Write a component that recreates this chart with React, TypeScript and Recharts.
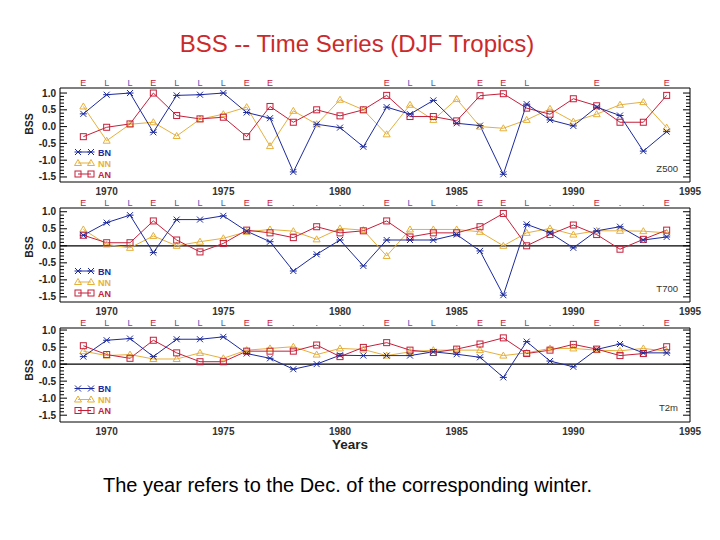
import React from 'react'
import { LineChart, Line, XAxis, YAxis, ReferenceLine } from 'recharts'

// years are the December of each DJF winter
const years = [
  1969, 1970, 1971, 1972, 1973, 1974, 1975, 1976, 1977, 1978, 1979, 1980, 1981,
  1982, 1983, 1984, 1985, 1986, 1987, 1988, 1989, 1990, 1991, 1992, 1993, 1994,
]
// E = El Nino winter, L = La Nina winter
const ensoTags = [
  'E', 'L', 'L', 'E', 'L', 'L', 'L', 'E', 'E', '', '', '', '',
  'E', 'L', 'L', '', 'E', 'E', 'L', '', '', 'E', '', '', 'E',
]

const z500BN = [0.38, 0.95, 1.0, -0.17, 0.93, 0.95, 1.0, 0.42, 0.25, -1.35, 0.07, -0.03, -0.6, 0.58, 0.37, 0.78, 0.1, 0.03, -1.42, 0.67, 0.2, 0.02, 0.58, 0.33, -0.73, -0.15]
const z500NN = [0.6, -0.42, 0.07, 0.13, -0.28, 0.22, 0.37, 0.58, -0.58, 0.47, 0.07, 0.8, 0.5, -0.23, 0.65, 0.2, 0.82, 0.0, -0.05, 0.2, 0.53, 0.15, 0.37, 0.65, 0.73, -0.03]
const z500AN = [-0.3, -0.02, 0.08, 1.0, 0.33, 0.23, 0.28, -0.3, 0.6, 0.13, 0.5, 0.32, 0.5, 0.93, 0.3, 0.3, 0.17, 0.92, 0.98, 0.55, 0.37, 0.83, 0.62, 0.13, 0.13, 0.93]

const t700BN = [0.31, 0.68, 0.9, -0.2, 0.77, 0.77, 0.88, 0.43, 0.12, -0.74, -0.25, 0.17, -0.59, 0.17, 0.17, 0.17, 0.33, -0.15, -1.45, 0.63, 0.38, -0.06, 0.44, 0.56, 0.17, 0.26]
const t700NN = [0.48, 0.04, -0.06, 0.29, 0.0, 0.12, 0.22, 0.41, 0.48, 0.43, 0.19, 0.51, 0.46, -0.3, 0.48, 0.48, 0.48, 0.41, 0.0, 0.38, 0.51, 0.33, 0.44, 0.44, 0.43, 0.38]
const t700AN = [0.31, 0.09, 0.09, 0.73, 0.17, -0.18, 0.07, 0.46, 0.38, 0.24, 0.56, 0.38, 0.44, 0.73, 0.26, 0.38, 0.38, 0.56, 0.95, 0.0, 0.33, 0.61, 0.33, -0.1, 0.19, 0.46]

const t2mBN = [0.22, 0.7, 0.75, 0.22, 0.73, 0.73, 0.8, 0.31, 0.17, -0.15, 0.0, 0.26, 0.25, 0.25, 0.25, 0.36, 0.29, 0.2, -0.39, 0.66, 0.09, -0.08, 0.43, 0.59, 0.33, 0.33]
const t2mNN = [0.38, 0.25, 0.28, 0.15, 0.15, 0.33, 0.17, 0.41, 0.46, 0.51, 0.28, 0.46, 0.43, 0.25, 0.36, 0.41, 0.41, 0.41, 0.25, 0.33, 0.46, 0.46, 0.41, 0.39, 0.46, 0.38]
const t2mAN = [0.54, 0.28, 0.17, 0.7, 0.33, 0.07, 0.07, 0.38, 0.38, 0.38, 0.56, 0.22, 0.49, 0.63, 0.41, 0.34, 0.44, 0.59, 0.77, 0.31, 0.41, 0.58, 0.44, 0.25, 0.31, 0.51]

const xTicks = [1970, 1975, 1980, 1985, 1990, 1995]
const yMajor = [-1.5, -1.0, -0.5, 0.0, 0.5, 1.0]
const yMinor = [-1.4, -1.3, -1.2, -1.1, -0.9, -0.8, -0.7, -0.6, -0.4, -0.3, -0.2, -0.1, 0.1, 0.2, 0.3, 0.4, 0.6, 0.7, 0.8, 0.9]

const FONT = '"Liberation Sans", Arial, sans-serif'
const BLUE = '#1c2a9e'
const GOLD = '#e6b03c'
const RED = '#c4203a'
const TAG_BLUE = '#4a58b8'

const Star = ({ cx, cy, color }: any) => (
  <g stroke={color} strokeWidth={1}>
    <line x1={cx - 3} y1={cy - 3} x2={cx + 3} y2={cy + 3} />
    <line x1={cx - 3} y1={cy + 3} x2={cx + 3} y2={cy - 3} />
    <line x1={cx - 3.5} y1={cy} x2={cx + 3.5} y2={cy} />
  </g>
)
const Tri = ({ cx, cy, color }: any) => (
  <polygon
    points={`${cx},${cy - 3.5} ${cx - 3.5},${cy + 2.5} ${cx + 3.5},${cy + 2.5}`}
    fill="none"
    stroke={color}
    strokeWidth={1}
  />
)
const Sq = ({ cx, cy, color }: any) => (
  <rect x={cx - 3} y={cy - 3} width={6} height={6} fill="none" stroke={color} strokeWidth={1} />
)

const isMajor = (v: number) => Math.abs(v * 2 - Math.round(v * 2)) < 1e-6

const LeftTick = (props: any) => {
  const { x, y, payload } = props
  const major = isMajor(payload.value)
  return (
    <g>
      <line x1={x + 4} y1={y} x2={x + 4 + (major ? 7 : 4)} y2={y} stroke="#000" />
      {major && (
        <text x={x} y={y + 3.5} textAnchor="end" fontSize={10} fontWeight="bold" fill="#222" fontFamily={FONT}>
          {payload.value.toFixed(1)}
        </text>
      )}
    </g>
  )
}

const RightTick = (props: any) => {
  const { x, y, payload } = props
  const major = isMajor(payload.value)
  return <line x1={x} y1={y} x2={x - (major ? 7 : 4)} y2={y} stroke="#000" />
}

const BottomTick = (props: any) => {
  const { x, y, payload } = props
  return (
    <text x={x} y={y + 11} textAnchor="middle" fontSize={10} fontWeight="bold" fill="#333" fontFamily={FONT}>
      {payload.value}
    </text>
  )
}

const makeTopTick = (showDots: boolean) => (props: any) => {
  const { x, y, payload } = props
  const tag = ensoTags[years.indexOf(payload.value)]
  if (!tag && !showDots) return <g />
  const color = tag === 'E' ? RED : tag === 'L' ? TAG_BLUE : '#444'
  return (
    <text x={x} y={y} textAnchor="middle" fontSize={9} fill={color} fontFamily={FONT}>
      {tag || '.'}
    </text>
  )
}

type PanelProps = {
  plotTop: number
  domain: [number, number]
  bn: number[]
  nn: number[]
  an: number[]
  zeroLine: boolean
  showDots: boolean
}

const Panel = ({ plotTop, domain, bn, nn, an, zeroLine, showDots }: PanelProps) => {
  const rows = years.map((year, i) => ({ year, bn: bn[i], nn: nn[i], an: an[i] }))
  const yTicks = [...yMajor, ...yMinor].sort((a, b) => a - b)
  return (
    <div style={{ position: 'absolute', left: 0, top: plotTop - 20 }}>
      <LineChart width={720} height={134} data={rows} margin={{ top: 4, right: 20, bottom: 0, left: 20 }}>
        <XAxis
          dataKey="year"
          type="number"
          domain={[1968, 1995]}
          ticks={xTicks}
          interval={0}
          height={20}
          tickSize={0}
          tickMargin={2}
          tickLine={false}
          axisLine={{ stroke: '#000' }}
          tick={<BottomTick />}
        />
        <XAxis
          xAxisId="top"
          orientation="top"
          dataKey="year"
          type="number"
          domain={[1968, 1995]}
          ticks={years}
          interval={0}
          height={16}
          tickSize={0}
          tickMargin={2}
          tickLine={false}
          axisLine={{ stroke: '#000' }}
          tick={makeTopTick(showDots)}
        />
        <YAxis
          type="number"
          domain={domain}
          allowDataOverflow
          ticks={yTicks}
          interval={0}
          width={40}
          tickSize={0}
          tickMargin={4}
          tickLine={false}
          axisLine={{ stroke: '#000' }}
          tick={<LeftTick />}
        />
        <YAxis
          yAxisId="r"
          orientation="right"
          type="number"
          domain={domain}
          allowDataOverflow
          ticks={yTicks}
          interval={0}
          width={10}
          tickSize={0}
          tickMargin={0}
          tickLine={false}
          axisLine={{ stroke: '#000' }}
          tick={<RightTick />}
        />
        {zeroLine && <ReferenceLine y={0} stroke="#000" strokeWidth={1.2} />}
        <Line
          dataKey="nn"
          stroke={GOLD}
          strokeWidth={1}
          isAnimationActive={false}
          dot={(p: any) => <Tri key={`nn-${p.index}`} cx={p.cx} cy={p.cy} color={GOLD} />}
        />
        <Line
          dataKey="an"
          stroke={RED}
          strokeWidth={1}
          isAnimationActive={false}
          dot={(p: any) => <Sq key={`an-${p.index}`} cx={p.cx} cy={p.cy} color={RED} />}
        />
        <Line
          dataKey="bn"
          stroke={BLUE}
          strokeWidth={1}
          isAnimationActive={false}
          dot={(p: any) => <Star key={`bn-${p.index}`} cx={p.cx} cy={p.cy} color={BLUE} />}
        />
      </LineChart>
    </div>
  )
}

const legendItems = [
  { label: 'BN', color: BLUE, Mark: Star },
  { label: 'NN', color: GOLD, Mark: Tri },
  { label: 'AN', color: RED, Mark: Sq },
]

const LegendBlock = ({ firstY, gap }: { firstY: number; gap: number }) => (
  <g>
    {legendItems.map((it, i) => {
      const y = firstY + i * gap
      const M = it.Mark
      return (
        <g key={it.label}>
          <line x1={78} y1={y} x2={91} y2={y} stroke={it.color} strokeWidth={1} />
          <M cx={78} cy={y} color={it.color} />
          <M cx={91} cy={y} color={it.color} />
          <text x={98} y={y + 3.5} fontSize={9} fontWeight="bold" fill={it.color} fontFamily={FONT}>
            {it.label}
          </text>
        </g>
      )
    })}
  </g>
)

const panelNames = [
  { name: 'Z500', y: 172, bssY: 124, legendY: 152 },
  { name: 'T700', y: 292, bssY: 247, legendY: 271 },
  { name: 'T2m', y: 411, bssY: 370, legendY: 388.5 },
]

export default function App() {
  return (
    <div style={{ position: 'absolute', left: 0, top: 0, width: 720, height: 540, background: '#fff' }}>
      <svg width={720} height={540} style={{ position: 'absolute', left: 0, top: 0 }}>
        <text x={357} y={52} textAnchor="middle" fontSize={24} fill="#cc2a2a" fontFamily={FONT}>
          BSS -- Time Series (DJF Tropics)
        </text>
        {panelNames.map((p) => (
          <g key={p.name}>
            <text
              x={0}
              y={0}
              transform={`translate(33, ${p.bssY}) rotate(-90)`}
              textAnchor="middle"
              fontSize={10.5}
              fontWeight="bold"
              fill="#222"
              fontFamily={FONT}
            >
              BSS
            </text>
            <text x={678} y={p.y} textAnchor="end" fontSize={9.5} fill="#333" fontFamily={FONT}>
              {p.name}
            </text>
            <LegendBlock firstY={p.legendY} gap={11} />
          </g>
        ))}
        <text x={350} y={449} textAnchor="middle" fontSize={13.5} fontWeight="bold" fill="#222" fontFamily={FONT}>
          Years
        </text>
        <text x={347.5} y={492} textAnchor="middle" fontSize={20} fill="#000" fontFamily={FONT}>
          The year refers to the Dec. of the corresponding winter.
        </text>
      </svg>
      <Panel plotTop={88} domain={[-1.65, 1.15]} bn={z500BN} nn={z500NN} an={z500AN} zeroLine={false} showDots={false} />
      <Panel plotTop={208} domain={[-1.65, 1.11]} bn={t700BN} nn={t700NN} an={t700AN} zeroLine showDots />
      <Panel plotTop={328} domain={[-1.7, 1.06]} bn={t2mBN} nn={t2mNN} an={t2mAN} zeroLine showDots />
    </div>
  )
}
